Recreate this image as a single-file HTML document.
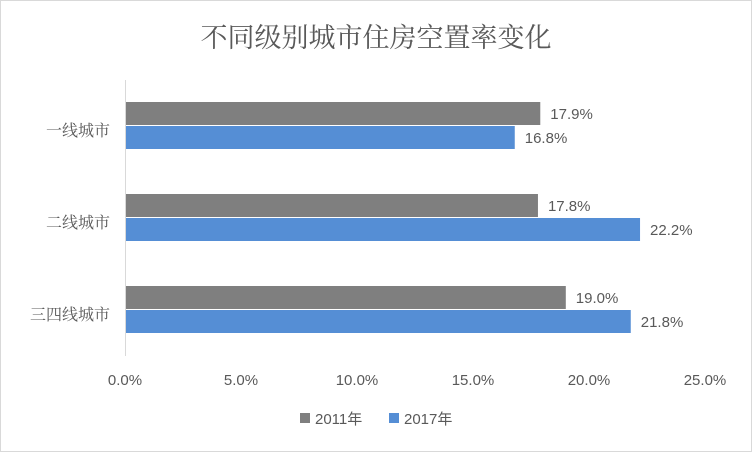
<!DOCTYPE html>
<html><head><meta charset="utf-8"><style>
body{margin:0;background:#fff}
svg text{font-family:"Liberation Sans","Noto Sans CJK SC",sans-serif;fill:#595959}
</style></head><body>
<svg width="752" height="452">
<rect x="0.5" y="0.5" width="751" height="451" fill="#fff" stroke="#d9d9d9"/>
<text x="376" y="47" text-anchor="middle" font-size="27" style="font-family:'Liberation Serif','Noto Serif CJK SC',serif">不同级别城市住房空置率变化</text>
<g id="plot"></g>
<g>
<rect x="300" y="413" width="10" height="10" fill="#7f7f7f"/>
<text x="315" y="424" font-size="15">2011年</text>
<rect x="389" y="413" width="10" height="10" fill="#558ed5"/>
<text x="404" y="424" font-size="15">2017年</text>
</g>
</svg>
<script>
const categories=["一线城市","二线城市","三四线城市"];
const s2011=[17.9,17.8,19.0];
const s2017=[16.8,22.2,21.8];
const ticks=[0,5,10,15,20,25];
const x0=125,x1=705,xMax=25,plotTop=80,bandH=92;
const xs=v=>x0+(x1-x0)*v/xMax;
const g=document.getElementById('plot');
const NS='http://www.w3.org/2000/svg';
function mk(t,a,txt){const e=document.createElementNS(NS,t);for(const k in a)e.setAttribute(k,a[k]);if(txt!=null)e.textContent=txt;g.appendChild(e);return e;}
ticks.forEach(t=>{const e=mk('text',{x:xs(t),y:385,'text-anchor':'middle','font-size':15},t.toFixed(1)+'%');

});
categories.forEach((c,i)=>{
const b=plotTop+i*bandH;
const l=mk('text',{x:110,y:b+56,'text-anchor':'end','font-size':16,style:"font-family:'Liberation Serif','Noto Serif CJK SC',serif"},c);


[[s2011[i],'#7f7f7f',22],[s2017[i],'#558ed5',46]].forEach(([v,col,off])=>{
const r=mk('rect',{x:x0,y:b+off,width:xs(v)-x0,height:23,fill:col});


const t=mk('text',{x:xs(v)+10,y:b+off+17,'font-size':15,fill:'#404040'},v.toFixed(1)+'%');


});
});
const ax=mk('line',{x1:x0+0.5,x2:x0+0.5,y1:plotTop,y2:plotTop+3*bandH,stroke:'#d9d9d9'});


</script>
</body></html>
